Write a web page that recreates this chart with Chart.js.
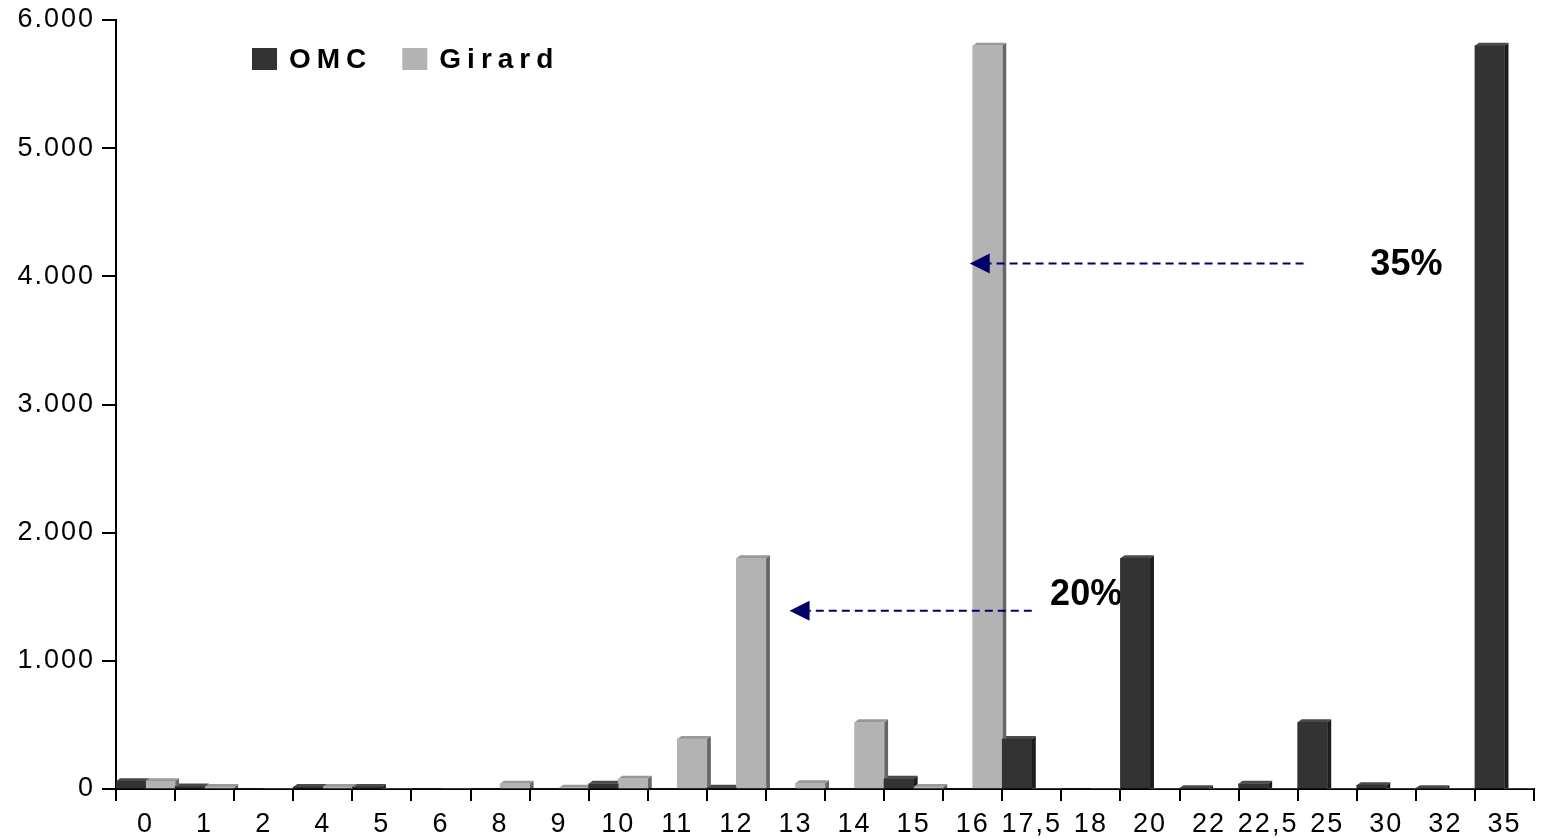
<!DOCTYPE html>
<html>
<head>
<meta charset="utf-8">
<script src="https://cdn.jsdelivr.net/npm/chart.js@4"></script>
<style>
  html, body { margin: 0; padding: 0; background: #fff; }
  #wrap { width: 1541px; height: 838px; position: relative; }
</style>
</head>
<body>
<div id="wrap"><canvas id="myChart"></canvas></div>
<script>
// Categories and values
var categories = ['0', '1', '2', '4', '5', '6', '8', '9', '10', '11', '12', '13', '14', '15', '16', '17,5', '18', '20', '22', '22,5', '25', '30', '32', '35'];
var omcValues = [60, 20, 0, 15, 15, 0, 0, 0, 40, 0, 10, 0, 0, 80, 0, 390, 0, 1800, 5, 40, 520, 30, 5, 5800];
var girardValues = [60, 15, 0, 15, 0, 0, 40, 10, 80, 390, 1800, 45, 520, 15, 5800, 0, 0, 0, 0, 0, 0, 0, 0, 0];
var yMin = 0;
var yMax = 6000;
var yStep = 1000;

// Arrow notes: x in category units from the left edge, y in data units
var noteLabels = ['35%', '20%'];
var arrowTail = [20.1, 15.5];
var arrowTip = [14.45, 11.4];
var arrowY = [4100, 1390];
var labelX = [21.84, 16.42];
var labelY = [4090, 1515];

var FONT = '"Liberation Sans", Arial, sans-serif';
Chart.defaults.font.family = FONT;
Chart.defaults.color = '#000';

// x position for a fractional category position
function xAt(chart, pos) {
  var s = chart.scales.x;
  return s.left + pos * s.width / categories.length;
}

// "6000" -> "6.000"
function thousands(v) {
  return String(v).replace(/\B(?=(\d{3})+(?!\d))/g, '.');
}

var depth = 4;
var rise = 3;

// side and top faces behind the bar fronts, plus the note texts
var bar3d = {
  id: 'bar3d',
  beforeDraw: function(chart) {
    chart.ctx.letterSpacing = '2px';
  },
  beforeDatasetsDraw: function(chart) {
    var ctx = chart.ctx;
    var y = chart.scales.y;
    ctx.save();
    ctx.letterSpacing = '0px';
    ctx.fillStyle = '#000';
    ctx.font = 'bold 36px ' + FONT;
    ctx.textAlign = 'center';
    ctx.textBaseline = 'middle';
    for (var n = 0; n < noteLabels.length; n++) {
      ctx.fillText(noteLabels[n], xAt(chart, labelX[n]), y.getPixelForValue(labelY[n]));
    }
    chart.data.datasets.forEach(function(ds, i) {
      var meta = chart.getDatasetMeta(i);
      meta.data.forEach(function(bar, j) {
        if (!ds.data[j]) return;
        var p = bar.getProps(['x', 'y', 'base', 'width'], true);
        var left = p.x - p.width / 2;
        var right = p.x + p.width / 2;
        ctx.fillStyle = ds.sideColor;
        ctx.beginPath();
        ctx.moveTo(right, p.y);
        ctx.lineTo(right + depth, p.y - rise);
        ctx.lineTo(right + depth, p.base);
        ctx.lineTo(right, p.base);
        ctx.closePath();
        ctx.fill();
        ctx.fillStyle = ds.topColor;
        ctx.beginPath();
        ctx.moveTo(left, p.y);
        ctx.lineTo(left + depth, p.y - rise);
        ctx.lineTo(right + depth, p.y - rise);
        ctx.lineTo(right, p.y);
        ctx.closePath();
        ctx.fill();
      });
    });
    ctx.restore();
  },
  afterDatasetsDraw: function(chart) {
    var ctx = chart.ctx;
    var y = chart.scales.y;
    ctx.save();
    // dashed arrows
    ctx.strokeStyle = '#000066';
    ctx.fillStyle = '#000066';
    ctx.lineWidth = 2;
    for (var n = 0; n < noteLabels.length; n++) {
      var py = y.getPixelForValue(arrowY[n]);
      var tip = xAt(chart, arrowTip[n]);
      var tail = xAt(chart, arrowTail[n]);
      ctx.setLineDash([8, 5]);
      ctx.beginPath();
      ctx.moveTo(tail, py);
      ctx.lineTo(tip + 10, py);
      ctx.stroke();
      ctx.setLineDash([]);
      ctx.beginPath();
      ctx.moveTo(tip, py);
      ctx.lineTo(tip + 20, py - 10);
      ctx.lineTo(tip + 20, py + 10);
      ctx.closePath();
      ctx.fill();
    }
    // legend
    ctx.letterSpacing = '6px';
    ctx.font = 'bold 28px ' + FONT;
    ctx.textAlign = 'left';
    ctx.textBaseline = 'middle';
    var lx = chart.chartArea.left + 136;
    var ly = chart.chartArea.top + 39;
    chart.data.datasets.forEach(function(ds) {
      ctx.fillStyle = ds.backgroundColor;
      ctx.fillRect(lx, ly - 11, 25, 22);
      ctx.fillStyle = '#000';
      ctx.fillText(ds.label, lx + 37, ly + 1);
      lx += 37 + ctx.measureText(ds.label).width + 30;
    });
    ctx.restore();
  }
};

var ctx = document.getElementById('myChart').getContext('2d');

var myChart = new Chart(ctx, {
  type: 'bar',
  data: {
    labels: categories,
    datasets: [{
      label: 'OMC',
      data: omcValues,
      backgroundColor: '#333333',
      sideColor: '#1c1c1c',
      topColor: '#4a4a4a',
      borderWidth: 0
    }, {
      label: 'Girard',
      data: girardValues,
      backgroundColor: '#b3b3b3',
      sideColor: '#666666',
      topColor: '#999999',
      borderWidth: 0
    }]
  },
  options: {
    responsive: true,
    maintainAspectRatio: false,
    animation: false,
    categoryPercentage: 1,
    barPercentage: 1,
    layout: { padding: { top: 20, right: 7, left: 0, bottom: 0 } },
    plugins: {
      legend: { display: false },
      tooltip: { enabled: false }
    },
    scales: {
      x: {
        z: 1,
        offset: true,
        border: { color: '#000', width: 2 },
        grid: {
          offset: true,
          drawOnChartArea: false,
          color: '#000',
          lineWidth: 2,
          tickLength: 12
        },
        ticks: {
          font: { size: 27 },
          color: '#000',
          padding: 7,
          maxRotation: 0,
          autoSkip: false
        },
        afterFit: function(scale) { scale.height = 49; }
      },
      y: {
        min: yMin,
        max: yMax,
        border: { color: '#000', width: 2 },
        grid: {
          drawOnChartArea: false,
          color: '#000',
          lineWidth: 2,
          tickLength: 14
        },
        ticks: {
          stepSize: yStep,
          font: { size: 27 },
          color: '#000',
          padding: 7,
          callback: function(value) { return thousands(value); }
        },
        afterFit: function(scale) {
          scale.width = 116;
          scale.paddingTop = 0;
          scale.paddingBottom = 0;
        }
      }
    }
  },
  plugins: [bar3d]
});
</script>
</body>
</html>
